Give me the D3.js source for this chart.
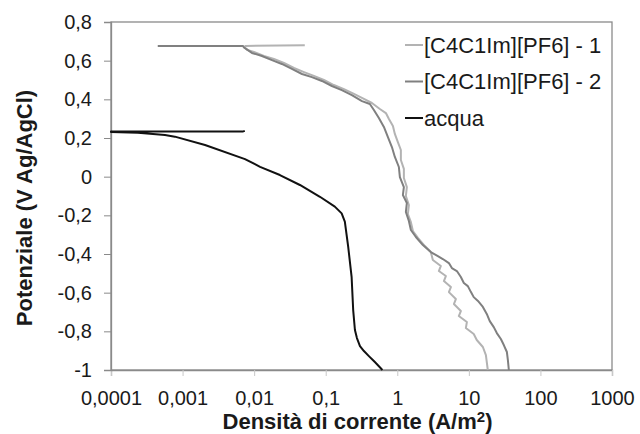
<!DOCTYPE html>
<html>
<head>
<meta charset="utf-8">
<script src="https://cdnjs.cloudflare.com/ajax/libs/d3/7.8.5/d3.min.js"></script>
<style>
    body { margin: 0; background: #fff; }
    svg { display: block; font-family: "Liberation Sans", Arial, sans-serif; }
</style>
</head>
<body>
<div id="chart"></div>
<script>
// x: current density (A/m2), y: potential (V Ag/AgCl)
const xTicks = [0.0001, 0.001, 0.01, 0.1, 1, 10, 100, 1000];
const xTickLabels = ['0,0001', '0,001', '0,01', '0,1', '1', '10', '100', '1000'];
const yTicks = [-1, -0.8, -0.6, -0.4, -0.2, 0, 0.2, 0.4, 0.6, 0.8];
const yTickLabels = ['-1', '-0,8', '-0,6', '-0,4', '-0,2', '0', '0,2', '0,4', '0,6', '0,8'];

const seriesNames = ['[C4C1Im][PF6] - 1', '[C4C1Im][PF6] - 2', 'acqua'];

const pf6run1 = [
    [0.051, 0.680], [0.0075, 0.676], [0.0074, 0.668], [0.0080, 0.656],
    [0.00993, 0.645], [0.0137, 0.624], [0.0189, 0.609], [0.0261, 0.588],
    [0.0360, 0.562], [0.0497, 0.541], [0.0684, 0.521], [0.0944, 0.500],
    [0.130, 0.474], [0.180, 0.453], [0.248, 0.428], [0.342, 0.402],
    [0.442, 0.381], [0.571, 0.350], [0.693, 0.329], [0.764, 0.298],
    [0.869, 0.262], [0.925, 0.221], [1.019, 0.179], [1.122, 0.138],
    [1.122, 0.086], [1.236, 0.040], [1.236, -0.007], [1.361, -0.054],
    [1.318, -0.100], [1.452, -0.147], [1.406, -0.193], [1.549, -0.235],
    [1.652, -0.281], [1.941, -0.317], [2.43, -0.359], [2.94, -0.390],
    [3.14, -0.431], [4.06, -0.462], [3.81, -0.488], [4.77, -0.514],
    [4.48, -0.540], [5.61, -0.571], [5.26, -0.597], [6.58, -0.633],
    [6.18, -0.659], [7.73, -0.695], [7.24, -0.721], [9.38, -0.752],
    [9.08, -0.783], [11.7, -0.814], [12.9, -0.845], [15.7, -0.881],
    [17.3, -0.923], [18.4, -1.0]
];

const pf6run2 = [
    [0.00045, 0.676], [0.0070, 0.676], [0.0072, 0.668], [0.0078, 0.660],
    [0.00931, 0.640], [0.01285, 0.624], [0.01775, 0.603], [0.0244, 0.583],
    [0.0337, 0.557], [0.0466, 0.531], [0.0641, 0.515], [0.0885, 0.495],
    [0.122, 0.469], [0.168, 0.448], [0.232, 0.422], [0.321, 0.391],
    [0.414, 0.376], [0.471, 0.345], [0.553, 0.303], [0.650, 0.257],
    [0.740, 0.205], [0.841, 0.153], [0.925, 0.102], [1.052, 0.050],
    [1.087, -0.002], [1.236, -0.054], [1.197, -0.095], [1.361, -0.136],
    [1.318, -0.183], [1.452, -0.229], [1.549, -0.276], [1.820, -0.312],
    [2.28, -0.354], [2.94, -0.390], [3.69, -0.411], [4.33, -0.426],
    [5.26, -0.447], [5.79, -0.473], [6.80, -0.488], [7.73, -0.519],
    [8.51, -0.550], [9.68, -0.566], [10.7, -0.597], [11.7, -0.623],
    [13.4, -0.643], [15.7, -0.674], [17.8, -0.710], [19.6, -0.747],
    [22.3, -0.778], [24.6, -0.809], [28.0, -0.840], [30.8, -0.871],
    [34.0, -0.907], [35.1, -0.949], [36.2, -1.0]
];

const acqua = [
    [0.0074, 0.237], [0.0069, 0.233], [0.0001, 0.233], [0.0001, 0.231],
    [0.000238, 0.227], [0.000568, 0.215], [0.00078, 0.207], [0.00206, 0.164],
    [0.00745, 0.091], [0.0121, 0.051], [0.0229, 0.0085], [0.0436, -0.043],
    [0.083, -0.104], [0.134, -0.155], [0.167, -0.190], [0.185, -0.233],
    [0.206, -0.362], [0.230, -0.518], [0.242, -0.690], [0.256, -0.793],
    [0.273, -0.835], [0.301, -0.876], [0.342, -0.902], [0.401, -0.928],
    [0.486, -0.959], [0.62, -1.0]
];

const seriesColors = ['#b3b3b3', '#808080', '#111111'];

const width = 640;
const height = 434;
const plotMargin = {top: 22, right: 28, bottom: 64, left: 111};

const svg = d3.select('#chart')
    .append('svg')
    .attr('width', width)
    .attr('height', height);

const x = d3.scaleLog()
    .domain([0.0001, 1000])
    .range([plotMargin.left, width - plotMargin.right]);

const y = d3.scaleLinear()
    .domain([-1, 0.8])
    .range([height - plotMargin.bottom, plotMargin.top]);

// frame
svg.append('rect')
    .attr('x', x.range()[0])
    .attr('y', y.range()[1])
    .attr('width', x.range()[1] - x.range()[0])
    .attr('height', y.range()[0] - y.range()[1])
    .attr('fill', 'none')
    .attr('stroke', '#8a8a8a')
    .attr('stroke-width', 1.3);

// x axis
svg.append('g')
    .attr('transform', 'translate(0,' + y(-1) + ')')
    .call(d3.axisBottom(x)
        .tickValues(xTicks)
        .tickFormat((d, i) => xTickLabels[i])
        .tickSize(6)
        .tickPadding(15))
    .call(g => g.select('.domain').attr('stroke', '#8a8a8a').attr('stroke-width', 1.3))
    .call(g => g.selectAll('.tick line').attr('stroke', '#c8c8c8'))
    .call(g => g.selectAll('.tick text')
        .attr('fill', '#1a1a1a')
        .style('font-size', '20px'));

// y axis
svg.append('g')
    .attr('transform', 'translate(' + x(0.0001) + ',0)')
    .call(d3.axisLeft(y)
        .tickValues(yTicks)
        .tickFormat((d, i) => yTickLabels[i])
        .tickSize(7)
        .tickPadding(12))
    .call(g => g.select('.domain').attr('stroke', '#8a8a8a').attr('stroke-width', 1.3))
    .call(g => g.selectAll('.tick line').attr('stroke', '#8a8a8a'))
    .call(g => g.selectAll('.tick text')
        .attr('fill', '#1a1a1a')
        .style('font-size', '20px'));

// axis titles
svg.append('text')
    .attr('x', (x.range()[0] + x.range()[1]) / 2 - 4)
    .attr('y', 429)
    .attr('text-anchor', 'middle')
    .style('font-size', '22px')
    .style('font-weight', 'bold')
    .attr('fill', '#1a1a1a')
    .html('Densità di corrente (A/m<tspan dy="-7" style="font-size:15px">2</tspan><tspan dy="7">)</tspan>');

svg.append('text')
    .attr('transform', 'translate(32,' + 208 + ') rotate(-90)')
    .attr('text-anchor', 'middle')
    .style('font-size', '22px')
    .style('font-weight', 'bold')
    .attr('fill', '#1a1a1a')
    .text('Potenziale (V Ag/AgCl)');

// curves
const line = d3.line()
    .x(d => x(d[0]))
    .y(d => y(d[1]));

[pf6run1, pf6run2, acqua].forEach((s, i) => {
    svg.append('path')
        .datum(s)
        .attr('fill', 'none')
        .attr('stroke', seriesColors[i])
        .attr('stroke-width', 2)
        .attr('stroke-linejoin', 'round')
        .attr('d', line);
});

// legend
const legend = svg.append('g')
    .attr('transform', 'translate(405,45)');

seriesNames.forEach((name, i) => {
    const row = legend.append('g')
        .attr('transform', 'translate(0,' + (i * 36.5) + ')');
    row.append('line')
        .attr('x1', 0)
        .attr('x2', 18)
        .attr('y1', 0)
        .attr('y2', 0)
        .attr('stroke', seriesColors[i])
        .attr('stroke-width', 2);
    row.append('text')
        .attr('x', 19)
        .attr('y', 7.5)
        .style('font-size', '22px')
        .attr('fill', '#1a1a1a')
        .text(name);
});
</script>
</body>
</html>
